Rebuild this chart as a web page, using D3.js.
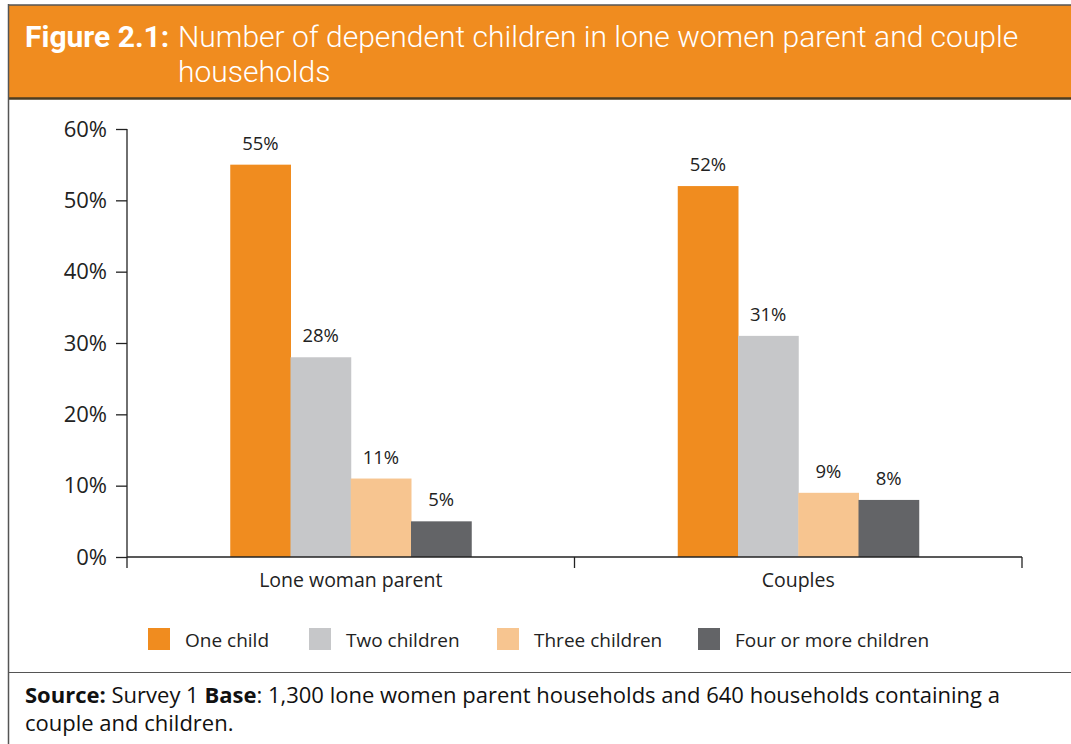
<!DOCTYPE html>
<html>
<head>
<meta charset="utf-8">
<script src="https://cdn.jsdelivr.net/npm/d3@7"></script>
<style>
  body { margin: 0; background: #fff; }
  svg { display: block; }
</style>
</head>
<body>
<svg id="chart" width="1071" height="744"></svg>
<script>
// data
var categories = ["Lone woman parent", "Couples"]
var series = ["One child", "Two children", "Three children", "Four or more children"]
var loneValues = [55, 28, 11, 5]
var coupleValues = [52, 31, 9, 8]
var yTicks = [0, 10, 20, 30, 40, 50, 60]
var colors = ["#f08c1f", "#c6c7c9", "#f7c590", "#636467"]

var rows = categories.map(function(c, i){
    var vals = i == 0 ? loneValues : coupleValues
    return { category: c, values: series.map(function(s, j){ return { key: s, value: vals[j] } }) }
})

var dimensions = {
    width: 1071,
    height: 744,
    margin: { top: 129, bottom: 187, left: 127, right: 49 }
}

var svg = d3.select("#chart")
var labelFont = "'Open Sans', 'Noto Sans', sans-serif"
var titleFont = "'Roboto', sans-serif"

// frame + header
svg.append("rect")
    .attr("x", 9).attr("y", 5)
    .attr("width", dimensions.width).attr("height", 93)
    .attr("fill", "#f08c1f")
svg.append("line")
    .attr("x1", 8).attr("x2", dimensions.width).attr("y1", 5).attr("y2", 5)
    .attr("stroke", "#555").attr("stroke-width", 1.5)
svg.append("line")
    .attr("x1", 8).attr("x2", dimensions.width).attr("y1", 98.5).attr("y2", 98.5)
    .attr("stroke", "#4d3d22").attr("stroke-width", 2.5)
svg.append("line")
    .attr("x1", 8.5).attr("x2", 8.5).attr("y1", 4).attr("y2", dimensions.height)
    .attr("stroke", "#555").attr("stroke-width", 1.5)
svg.append("line")
    .attr("x1", 8).attr("x2", dimensions.width).attr("y1", 672.5).attr("y2", 672.5)
    .attr("stroke", "#555").attr("stroke-width", 1.2)

var title = svg.append("text")
    .attr("x", 25).attr("y", 47)
    .attr("fill", "#fff")
    .style("font-family", titleFont)
    .style("font-size", "30px")
title.append("tspan").attr("font-weight", "bold").text("Figure 2.1:")
title.append("tspan").attr("x", 178).attr("font-weight", 300).text("Number of dependent children in lone women parent and couple")
svg.append("text")
    .attr("x", 178).attr("y", 82)
    .attr("fill", "#fff")
    .attr("font-weight", 300)
    .style("font-family", titleFont)
    .style("font-size", "30px")
    .text("households")

// scales
var plotBottom = dimensions.height - dimensions.margin.bottom
var x0 = d3.scaleBand()
    .domain(categories)
    .range([dimensions.margin.left, dimensions.width - dimensions.margin.right])
    .padding(0)

var groupWidth = 241
var x1 = d3.scaleBand()
    .domain(series)
    .range([0, groupWidth])

var yScale = d3.scaleLinear()
    .domain([0, 60])
    .range([plotBottom, dimensions.margin.top])

var color = d3.scaleOrdinal().domain(series).range(colors)

// bars
var groups = svg.selectAll(".group")
    .data(rows)
    .enter().append("g")
    .attr("class", "group")
    .attr("transform", function(d){
        return "translate(" + (x0(d.category) + (x0.bandwidth() - groupWidth) / 2) + ",0)"
    })

groups.selectAll("rect")
    .data(function(d){ return d.values })
    .enter().append("rect")
    .attr("x", function(d){ return x1(d.key) })
    .attr("y", function(d){ return yScale(d.value) })
    .attr("width", x1.bandwidth() + 0.5)
    .attr("height", function(d){ return plotBottom - yScale(d.value) })
    .attr("fill", function(d){ return color(d.key) })

groups.selectAll(".val")
    .data(function(d){ return d.values })
    .enter().append("text")
    .attr("class", "val")
    .attr("x", function(d){ return x1(d.key) + x1.bandwidth() / 2 })
    .attr("y", function(d){ return yScale(d.value) - 15 })
    .attr("text-anchor", "middle")
    .attr("fill", "#222")
    .style("font-family", labelFont)
    .style("font-size", "18.5px")
    .text(function(d){ return d.value + "%" })

// y axis
var yAxisGen = d3.axisLeft(yScale)
    .tickValues(yTicks)
    .tickSize(11)
    .tickFormat(function(d){ return d + "%" })

var yAxis = svg.append("g")
    .attr("transform", "translate(" + dimensions.margin.left + ",0)")
    .call(yAxisGen)
yAxis.select(".domain").remove()
yAxis.append("line")
    .attr("x1", 0).attr("x2", 0)
    .attr("y1", dimensions.margin.top).attr("y2", plotBottom + 11)
    .attr("stroke", "#222").attr("stroke-width", 1.3)
yAxis.selectAll(".tick line").attr("stroke", "#222").attr("stroke-width", 1.3)
yAxis.selectAll("text")
    .attr("x", -20)
    .attr("fill", "#222")
    .style("font-family", labelFont)
    .style("font-size", "22px")

// x axis
var xAxisGen = d3.axisBottom(x0).tickSize(0)
var xAxis = svg.append("g")
    .attr("transform", "translate(0," + plotBottom + ")")
    .call(xAxisGen)
xAxis.select(".domain").remove()
xAxis.append("line")
    .attr("x1", dimensions.margin.left).attr("x2", dimensions.width - dimensions.margin.right)
    .attr("stroke", "#222").attr("stroke-width", 1.3)
xAxis.selectAll(".sep")
    .data(categories)
    .enter().append("line")
    .attr("class", "sep")
    .attr("x1", function(d){ return x0(d) + x0.bandwidth() })
    .attr("x2", function(d){ return x0(d) + x0.bandwidth() })
    .attr("y1", 0).attr("y2", 11)
    .attr("stroke", "#222").attr("stroke-width", 1.3)
xAxis.selectAll(".tick text")
    .attr("y", 16)
    .attr("fill", "#222")
    .style("font-family", labelFont)
    .style("font-size", "19.5px")

// legend
var legendX = [148, 309, 497, 698]
var legend = svg.selectAll(".legend")
    .data(series)
    .enter().append("g")
    .attr("class", "legend")
    .attr("transform", function(d, i){ return "translate(" + legendX[i] + ",628)" })
legend.append("rect")
    .attr("width", 22).attr("height", 22)
    .attr("fill", function(d){ return color(d) })
legend.append("text")
    .attr("x", 37).attr("y", 19)
    .attr("fill", "#222")
    .style("font-family", labelFont)
    .style("font-size", "19px")
    .text(function(d){ return d })

// footer
var source = svg.append("text")
    .attr("x", 25).attr("y", 703)
    .attr("fill", "#111")
    .style("font-family", labelFont)
    .style("font-size", "22px")
source.append("tspan").attr("font-weight", "bold").text("Source:")
source.append("tspan").text(" Survey 1 ")
source.append("tspan").attr("font-weight", "bold").text("Base")
source.append("tspan").text(": 1,300 lone women parent households and 640 households containing a")
svg.append("text")
    .attr("x", 25).attr("y", 731)
    .attr("fill", "#111")
    .style("font-family", labelFont)
    .style("font-size", "22px")
    .text("couple and children.")
</script>
</body>
</html>
